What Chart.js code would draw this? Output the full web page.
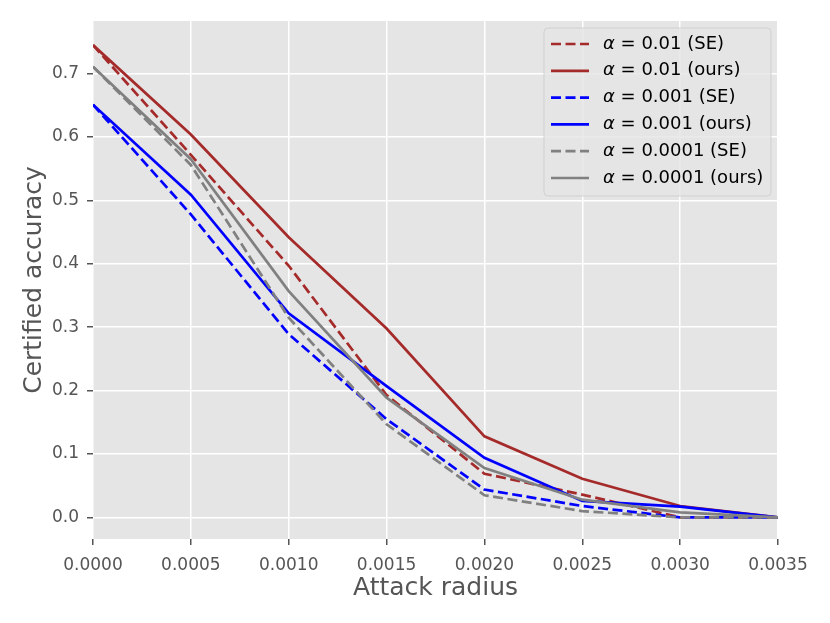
<!DOCTYPE html>
<html>
<head>
<meta charset="utf-8">
<script src="https://cdn.jsdelivr.net/npm/chart.js@4.4.1/dist/chart.umd.min.js"></script>
<style>
  html, body { margin: 0; padding: 0; background: #fff; }
  #wrap { width: 830px; height: 623px; }
</style>
</head>
<body>
<div id="wrap"><canvas id="accChart"></canvas></div>
<script>
// attack radius (x) values
const radius = [0, 0.0005, 0.001, 0.0015, 0.002, 0.0025, 0.003, 0.0035];

// certified accuracy per alpha, SE baseline vs ours
const se_a1 = [0.745, 0.572, 0.397, 0.193, 0.069, 0.036, 0.0, 0.0];
const ours_a1 = [0.745, 0.604, 0.442, 0.298, 0.128, 0.061, 0.018, 0.0];
const se_a2 = [0.651, 0.478, 0.289, 0.155, 0.044, 0.018, 0.0, 0.0];
const ours_a2 = [0.651, 0.509, 0.322, 0.207, 0.094, 0.026, 0.017, 0.0];
const se_a3 = [0.711, 0.556, 0.315, 0.147, 0.035, 0.010, 0.0, 0.0];
const ours_a3 = [0.711, 0.565, 0.357, 0.189, 0.078, 0.028, 0.008, 0.0];

const seriesNames = [
  "= 0.01 (SE)", "= 0.01 (ours)",
  "= 0.001 (SE)", "= 0.001 (ours)",
  "= 0.0001 (SE)", "= 0.0001 (ours)"
];
const seriesValues = [se_a1, ours_a1, se_a2, ours_a2, se_a3, ours_a3];
const seriesColors = ["#A52A2A", "#A52A2A", "#0000FF", "#0000FF", "#808080", "#808080"];
const seriesDashed = [true, false, true, false, true, false];

const xTicks = [0, 0.0005, 0.001, 0.0015, 0.002, 0.0025, 0.003, 0.0035];
const yTicks = [0.0, 0.1, 0.2, 0.3, 0.4, 0.5, 0.6, 0.7];

const DASH = [10, 4.5];
const FONT = "'DejaVu Sans', sans-serif";

// grey panel behind the plot
const panelBg = {
  id: "panelBg",
  beforeDraw(chart) {
    const { ctx, chartArea: a } = chart;
    ctx.save();
    ctx.fillStyle = "#E5E5E5";
    ctx.fillRect(a.left, a.top, a.right - a.left, a.bottom - a.top);
    ctx.restore();
  }
};

// matplotlib style legend box in the upper right corner
const mplLegend = {
  id: "mplLegend",
  afterDraw(chart) {
    const ctx = chart.ctx;
    const bx = 544, by = 28, bw = 227, bh = 168, r = 4;
    ctx.save();
    ctx.beginPath();
    ctx.roundRect(bx, by, bw, bh, r);
    ctx.fillStyle = "rgba(229,229,229,0.8)";
    ctx.fill();
    ctx.strokeStyle = "rgba(204,204,204,0.8)";
    ctx.lineWidth = 1;
    ctx.stroke();

    for (let i = 0; i < seriesNames.length; i++) {
      const y = 44 + i * 26.8;
      ctx.beginPath();
      ctx.setLineDash(seriesDashed[i] ? DASH : []);
      ctx.strokeStyle = seriesColors[i];
      ctx.lineWidth = 2.7;
      ctx.moveTo(551, y);
      ctx.lineTo(589, y);
      ctx.stroke();
      ctx.setLineDash([]);

      ctx.fillStyle = "#000";
      ctx.textBaseline = "middle";
      ctx.textAlign = "left";
      ctx.font = "italic 18px " + FONT;
      ctx.fillText("α", 603, y);
      const aw = ctx.measureText("α ").width;
      ctx.font = "18px " + FONT;
      ctx.fillText(seriesNames[i], 603 + aw, y);
    }
    ctx.restore();
  }
};

const datasets = seriesValues.map((vals, i) => ({
  label: "α " + seriesNames[i],
  data: radius.map((x, j) => ({ x: x, y: vals[j] })),
  borderColor: seriesColors[i],
  backgroundColor: seriesColors[i],
  borderWidth: 2.7,
  borderDash: seriesDashed[i] ? DASH : [],
  pointRadius: 0,
  tension: 0,
  fill: false,
  order: seriesValues.length - i
}));

const ctx = document.getElementById("accChart").getContext("2d");
new Chart(ctx, {
  type: "line",
  data: { datasets: datasets },
  plugins: [panelBg, mplLegend],
  options: {
    responsive: true,
    maintainAspectRatio: false,
    animation: false,
    layout: { padding: { left: 0, right: 52, top: 21, bottom: 0 } },
    plugins: {
      legend: { display: false },
      tooltip: { enabled: false }
    },
    scales: {
      x: {
        type: "linear",
        min: 0,
        max: 0.0035,
        afterBuildTicks: (scale) => { scale.ticks = xTicks.map(v => ({ value: v })); },
        afterFit: (scale) => { scale.height = 84; },
        grid: { color: "#ffffff", lineWidth: 1.5, tickColor: "#555555", tickLength: 6, drawTicks: true },
        border: { display: false },
        ticks: {
          color: "#555555",
          font: { family: FONT, size: 17 },
          padding: 10,
          maxRotation: 0,
          callback: (v) => Number(v).toFixed(4)
        },
        title: {
          display: true,
          text: "Attack radius",
          color: "#555555",
          font: { family: FONT, size: 25 },
          padding: { top: 0, bottom: 20 }
        }
      },
      y: {
        min: -0.034,
        max: 0.783,
        afterBuildTicks: (scale) => { scale.ticks = yTicks.map(v => ({ value: v })); },
        afterFit: (scale) => { scale.width = 93; },
        grid: { color: "#ffffff", lineWidth: 1.5, tickColor: "#555555", tickLength: 6, drawTicks: true },
        border: { display: false },
        ticks: {
          color: "#555555",
          font: { family: FONT, size: 17 },
          padding: 8,
          callback: (v) => Number(v).toFixed(1)
        },
        title: {
          display: true,
          text: "Certified accuracy",
          color: "#555555",
          font: { family: FONT, size: 25 },
          padding: { top: 19, bottom: 0 }
        }
      }
    }
  }
});
</script>
</body>
</html>
